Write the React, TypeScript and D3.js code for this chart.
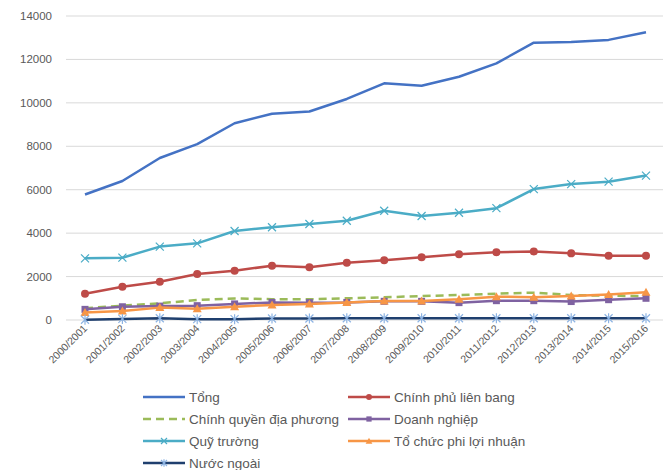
import React from "react";
import * as d3 from "d3";

const years = ["2000/2001","2001/2002","2002/2003","2003/2004","2004/2005","2005/2006","2006/2007","2007/2008","2008/2009","2009/2010","2010/2011","2011/2012","2012/2013","2013/2014","2014/2015","2015/2016"];
const tong = [5780,6400,7460,8100,9060,9500,9600,10180,10900,10790,11200,11820,12770,12800,12900,13250];
const chinhPhu = [1210,1530,1760,2120,2270,2500,2430,2640,2750,2890,3030,3120,3160,3070,2960,2960];
const diaPhuong = [540,660,770,920,990,960,950,1000,1045,1105,1150,1210,1260,1150,1120,1100];
const doanhNghiep = [490,610,640,660,740,810,800,810,860,860,800,890,890,850,935,1000];
const phiLoiNhuan = [340,415,570,520,610,690,740,810,875,870,950,1075,1050,1100,1180,1275];
const quyTruong = [2840,2870,3380,3530,4100,4270,4420,4570,5030,4790,4940,5150,6030,6260,6370,6650];
const nuocNgoai = [10,50,80,40,40,70,70,80,80,80,80,80,80,80,80,80];
const yTicks = [0,2000,4000,6000,8000,10000,12000,14000];

type S = { name: string; values: number[]; color: string; marker: string; dash?: string; mcolor?: string };
const series: S[] = [
  { name: "Tổng", values: tong, color: "#4472C4", marker: "none" },
  { name: "Chính phủ liên bang", values: chinhPhu, color: "#BE4B48", marker: "circle" },
  { name: "Chính quyền địa phương", values: diaPhuong, color: "#9BBB59", marker: "none", dash: "8,5" },
  { name: "Doanh nghiệp", values: doanhNghiep, color: "#7F62A1", marker: "square" },
  { name: "Quỹ trường", values: quyTruong, color: "#4BACC6", marker: "x" },
  { name: "Tổ chức phi lợi nhuận", values: phiLoiNhuan, color: "#F79646", marker: "triangle" },
  { name: "Nước ngoài", values: nuocNgoai, color: "#1F3F6E", marker: "star", mcolor: "#8EB4E3" },
];
const drawOrder = [4, 1, 2, 3, 5, 6, 0];

function Marker({ type, x, y, color, s = 1 }: { type: string; x: number; y: number; color: string; s?: number }) {
  if (type === "circle") return <circle cx={x} cy={y} r={4 * s} fill={color} />;
  if (type === "square") return <rect x={x - 3.5 * s} y={y - 3.5 * s} width={7 * s} height={7 * s} fill={color} />;
  if (type === "triangle") return <path d={`M${x},${y - 4.5 * s}L${x + 4.5 * s},${y + 3.5 * s}L${x - 4.5 * s},${y + 3.5 * s}Z`} fill={color} />;
  if (type === "x") return <path d={`M${x - 4 * s},${y - 4 * s}L${x + 4 * s},${y + 4 * s}M${x - 4 * s},${y + 4 * s}L${x + 4 * s},${y - 4 * s}`} stroke={color} strokeWidth={1.2} />;
  if (type === "star") return <path d={`M${x - 4 * s},${y - 4 * s}L${x + 4 * s},${y + 4 * s}M${x - 4 * s},${y + 4 * s}L${x + 4 * s},${y - 4 * s}M${x},${y - 5 * s}L${x},${y + 5 * s}`} stroke={color} strokeWidth={1.2} />;
  return null;
}

export default function App() {
  const W = 666, H = 470;
  const x = d3.scalePoint<string>().domain(years).range([85, 646]);
  const y = d3.scaleLinear().domain([0, 14000]).range([320, 16]);
  const line = d3.line<number>().x((_, i) => x(years[i])!).y(d => y(d));
  const font = "'Liberation Sans', 'DejaVu Sans', sans-serif";
  const legendPos = [
    [143, 397], [348, 397], [143, 419], [348, 419], [143, 441], [348, 441], [143, 463],
  ];
  return (
    <svg width={W} height={H} style={{ position: "absolute", left: 0, top: 0, background: "#fff" }} fontFamily={font}>
      {yTicks.map(t => (
        <g key={t}>
          <line x1={66} x2={663} y1={y(t)} y2={y(t)} stroke="#D9D9D9" strokeWidth={1} />
          <text x={52} y={y(t) + 4} textAnchor="end" fontSize={11.5} fill="#595959">{t}</text>
        </g>
      ))}
      {years.map(yr => (
        <text key={yr} transform={`translate(${x(yr)! + 3},${329}) rotate(-45)`} textAnchor="end" fontSize={10.5} fill="#595959">{yr}</text>
      ))}
      {drawOrder.map(i => {
        const s = series[i];
        return (
          <g key={s.name}>
            <path d={line(s.values)!} fill="none" stroke={s.color} strokeWidth={2.5} strokeDasharray={s.dash} strokeLinejoin="round" />
            {s.values.map((v, j) => (
              <Marker key={j} type={s.marker} x={x(years[j])!} y={y(v)} color={s.mcolor || s.color} />
            ))}
          </g>
        );
      })}
      {series.map((s, i) => {
        const [lx, ly] = legendPos[i];
        return (
          <g key={s.name}>
            <line x1={lx} x2={lx + 42} y1={ly} y2={ly} stroke={s.color} strokeWidth={2.5} strokeDasharray={s.dash} />
            <Marker type={s.marker} x={lx + 21} y={ly} color={s.mcolor || s.color} s={0.75} />
            <text x={lx + 46} y={ly + 4.5} fontSize={13.5} fill="#595959">{s.name}</text>
          </g>
        );
      })}
    </svg>
  );
}
